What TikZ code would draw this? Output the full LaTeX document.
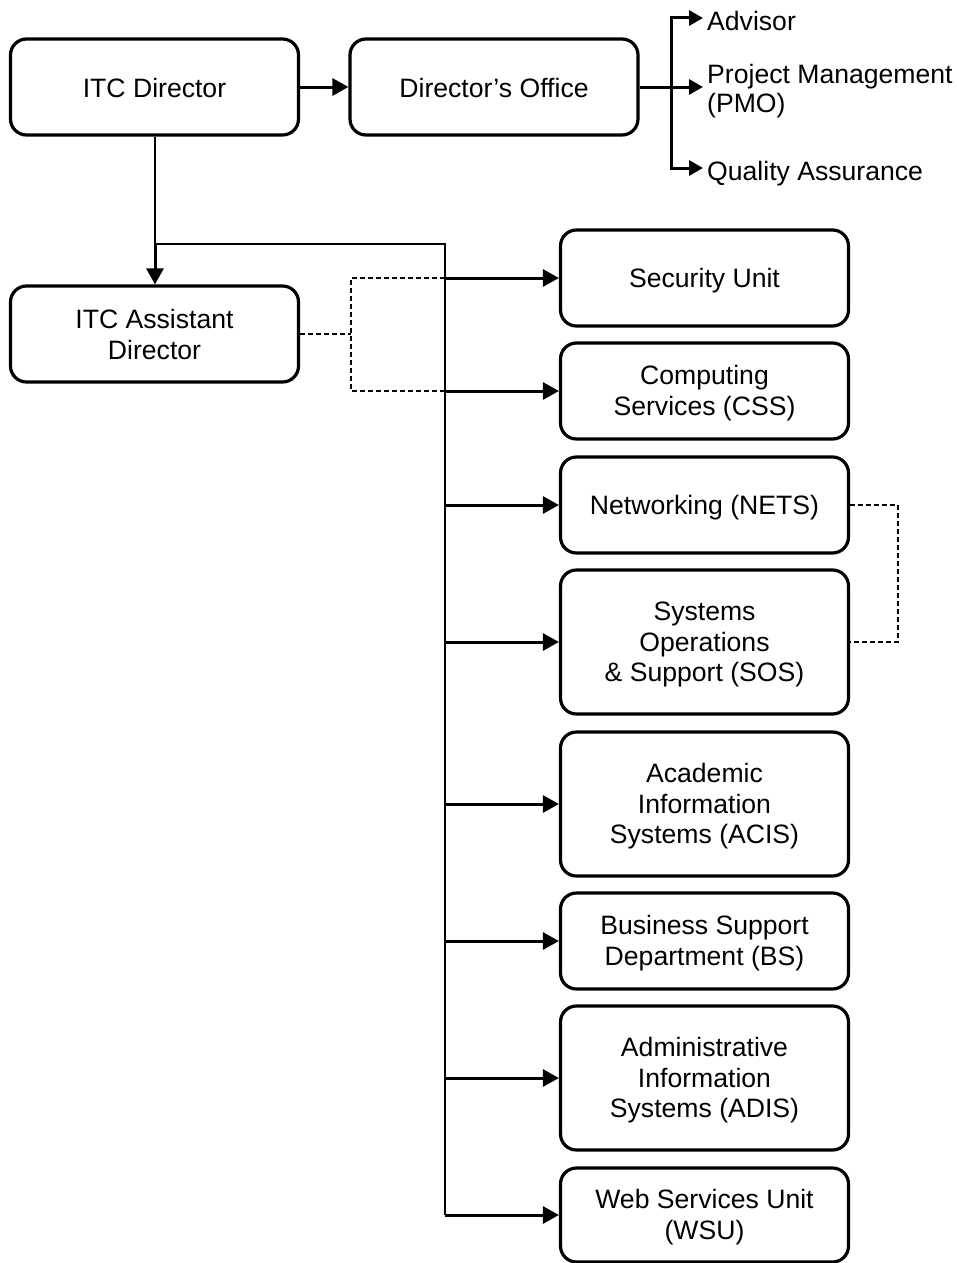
\documentclass[tikz,border=0pt]{standalone}
\usepackage{fontspec}
\setmainfont{Liberation Sans}
\usetikzlibrary{arrows.meta}
\newcommand\mystrut{\rule[-0.14em]{0pt}{1.04em}}
\newcommand\fst{\rule{0pt}{0.9em}}
\tikzset{
  box/.style={draw, line width=3.2pt, rounded corners=16pt, minimum width=288pt, inner sep=0pt, align=center, font=\fontsize{26.6}{30.5}\selectfont, execute at end node=\mystrut},
  lbl/.style={anchor=west, inner sep=0pt, align=left, font=\fontsize{26.6}{29.4}\selectfont, execute at end node=\mystrut},
  thin/.style={line width=1.4pt},
  arr/.style={line width=3pt, -{Triangle[length=16pt,width=17pt]}},
  sarr/.style={line width=3pt, -{Triangle[length=14pt,width=15pt]}},
  dsh/.style={line width=1.3pt, dash pattern=on 5pt off 3pt}
}
\begin{document}
\begin{tikzpicture}[x=1pt,y=-1pt]
\useasboundingbox (0,0) rectangle (957,1263);
\node[box, minimum height=96pt] (dir) at (154.5,87) {ITC Director};
\node[box, minimum height=96pt] (off) at (494,87) {Director’s Office};
\node[box, minimum height=96pt] (asst) at (154.5,334) {\fst ITC Assistant\\Director};
\node[box, minimum height=96pt] (sec) at (704.5,278) {Security Unit};
\node[box, minimum height=96pt] (css) at (704.5,391) {\fst Computing\\Services (CSS)};
\node[box, minimum height=96pt] (nets) at (704.5,505) {Networking (NETS)};
\node[box, minimum height=144pt] (sos) at (704.5,642) {\fst Systems\\Operations\\\& Support (SOS)};
\node[box, minimum height=144pt] (acis) at (704.5,804) {\fst Academic\\Information\\Systems (ACIS)};
\node[box, minimum height=96pt] (bs) at (704.5,941) {\fst Business Support\\Department (BS)};
\node[box, minimum height=144pt] (adis) at (704.5,1078) {\fst Administrative\\Information\\Systems (ADIS)};
\node[box, minimum height=94pt] (wsu) at (704.5,1215) {\fst Web Services Unit\\(WSU)};
\node[lbl] (adv) at (707,20.5) {Advisor};
\node[lbl] (pmo) at (707,89) {\fst Project Management\\(PMO)};
\node[lbl] (qa) at (707,171) {Quality Assurance};
% director's office branch
\coordinate (b1) at (671,87);
\coordinate (bt) at (671,18);
\coordinate (bb) at (671,168);
\draw[arr] (dir.east) -- (off.east -| off.west);
\draw[line width=3pt] (off.east) -- (b1);
\draw[line width=3pt] (bt) -- (bb);
\draw[sarr] ([xshift=-1.5pt]bt) -- ([xshift=-4pt]adv.west |- bt);
\draw[sarr] (b1) -- ([xshift=-4pt]pmo.west |- b1);
\draw[sarr] ([xshift=-1.5pt]bb) -- ([xshift=-4pt]qa.west |- bb);
% trunk
\coordinate (j1) at (155,244);
\coordinate (j2) at (445,244);
\coordinate (jb) at (445,1215);
\draw[thin] (dir.south -| j1) -- (j1) -- (j2) -- (jb);
\draw[arr] (j1) -- (asst.north -| j1);
\foreach \n in {sec,css,nets,sos,acis,bs,adis,wsu}{
  \draw[arr] (j2 |- \n.west) -- (\n.west);
}
% dashed links
\coordinate (d1) at (351,334);
\draw[dsh] (asst.east) -- (d1);
\draw[dsh] (j2 |- sec.west) -| (d1) |- (j2 |- css.west);
\coordinate (d2) at (898,505);
\draw[dsh] (nets.east) -- (d2) |- (sos.east);
\end{tikzpicture}
\end{document}
